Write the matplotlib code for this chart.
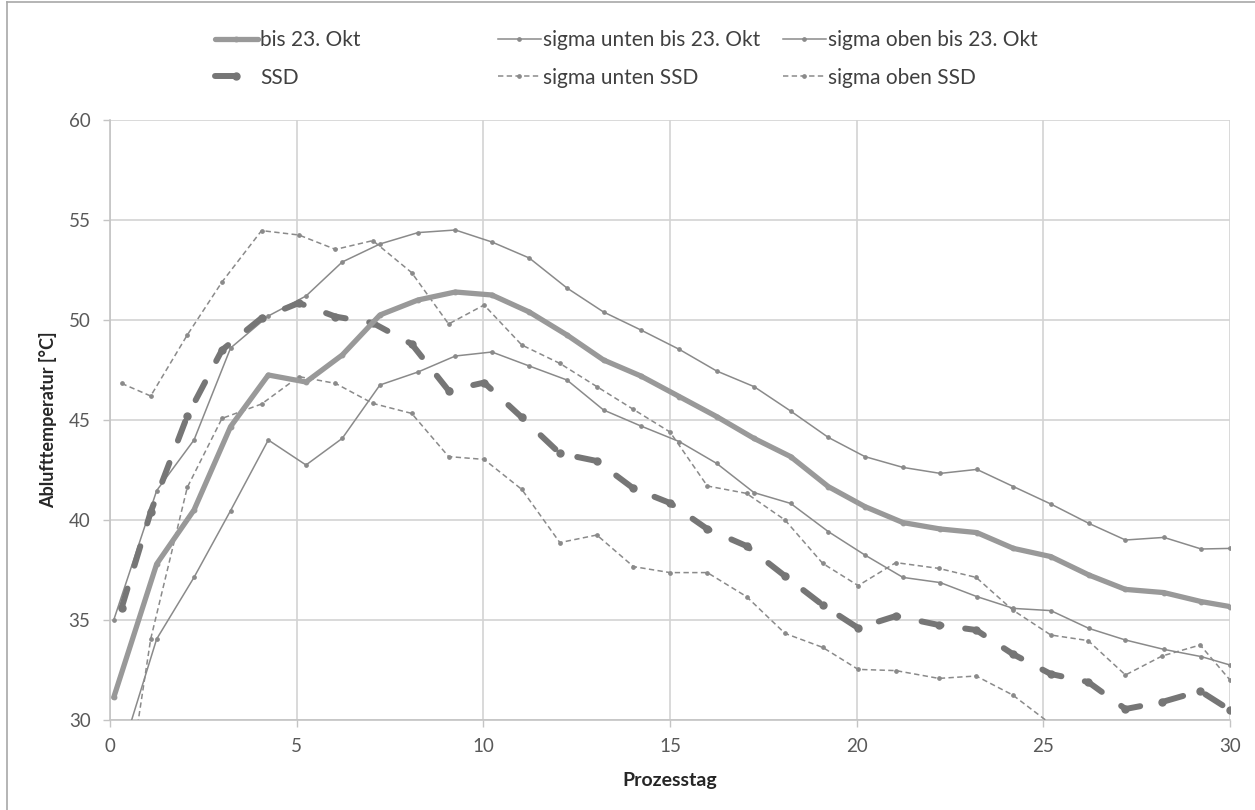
import numpy as np
import matplotlib.pyplot as plt
from matplotlib.lines import Line2D

plt.rcParams['font.family'] = ['Lato', 'DejaVu Sans']

# Process days (x) of the reference run up to 23 Oct and of the SSD run
days_okt = [0.10, 1.25, 2.25, 3.23, 4.24, 5.25, 6.22, 7.23, 8.25, 9.25,
            10.23, 11.23, 12.24, 13.22, 14.22, 15.25, 16.25, 17.25, 18.23, 19.24,
            20.22, 21.24, 22.24, 23.22, 24.20, 25.20, 26.22, 27.20, 28.23, 29.23, 30.00]
days_ssd = [0.31, 1.09, 2.07, 3.00, 4.06, 5.06, 6.04, 7.04, 8.08, 9.07,
            10.02, 11.03, 12.05, 13.04, 14.02, 15.00, 16.00, 17.05, 18.08, 19.09,
            20.04, 21.05, 22.20, 23.20, 24.18, 25.20, 26.20, 27.20, 28.18, 29.20, 30.00]

# Exhaust air temperature [°C]
bis_okt = [31.13, 37.8, 40.5, 44.67, 47.25, 46.9, 48.25, 50.25, 51.0, 51.4,
           51.25, 50.4, 49.25, 48.0, 47.2, 46.17, 45.17, 44.08, 43.17, 41.67,
           40.67, 39.87, 39.55, 39.37, 38.58, 38.17, 37.25, 36.53, 36.37, 35.92, 35.67]
sigma_unten_okt = [27.1, 34.05, 37.13, 40.47, 44.0, 42.75, 44.08, 46.75, 47.4, 48.2,
                   48.4, 47.7, 47.0, 45.5, 44.7, 43.92, 42.83, 41.37, 40.83, 39.42,
                   38.25, 37.13, 36.87, 36.17, 35.58, 35.47, 34.58, 34.0, 33.53, 33.17, 32.75]
sigma_oben_okt = [35.0, 41.47, 44.0, 48.6, 50.2, 51.2, 52.9, 53.8, 54.37, 54.5,
                  53.9, 53.1, 51.6, 50.4, 49.5, 48.53, 47.45, 46.67, 45.45, 44.13,
                  43.17, 42.63, 42.33, 42.53, 41.67, 40.8, 39.83, 39.0, 39.13, 38.55, 38.58]
ssd = [35.6, 40.4, 45.2, 48.5, 50.1, 50.85, 50.17, 49.85, 48.8, 46.47,
       46.87, 45.13, 43.33, 42.95, 41.58, 40.85, 39.55, 38.7, 37.2, 35.75,
       34.6, 35.2, 34.75, 34.5, 33.3, 32.3, 31.9, 30.55, 30.9, 31.45, 30.5]
sigma_unten_ssd = [24.5, 34.05, 41.63, 45.08, 45.8, 47.17, 46.83, 45.83, 45.33, 43.17,
                   43.03, 41.53, 38.87, 39.25, 37.67, 37.37, 37.37, 36.17, 34.33, 33.63,
                   32.53, 32.47, 32.08, 32.2, 31.25, 29.8, np.nan, np.nan, np.nan, np.nan, np.nan]
sigma_oben_ssd = [46.83, 46.2, 49.25, 51.9, 54.47, 54.25, 53.53, 53.97, 52.37, 49.8,
                  50.75, 48.75, 47.83, 46.67, 45.53, 44.4, 41.7, 41.33, 40.0, 37.83,
                  36.72, 37.87, 37.58, 37.13, 35.5, 34.25, 33.97, 32.25, 33.2, 33.75, 32.0]

x_ticks = [0, 5, 10, 15, 20, 25, 30]
y_ticks = [30, 35, 40, 45, 50, 55, 60]

W, H = 1255, 810
fig = plt.figure(figsize=(W / 100, H / 100), dpi=100)
ax = fig.add_axes([110 / W, 90 / H, 1120 / W, 600 / H])

c_okt = '#999999'
c_ssd = '#767676'
c_sig = '#8a8a8a'

l_su_okt, = ax.plot(days_okt, sigma_unten_okt, color=c_sig, lw=1.1,
                    marker='o', ms=2.4, zorder=3)
l_so_okt, = ax.plot(days_okt, sigma_oben_okt, color=c_sig, lw=1.1,
                    marker='o', ms=2.4, zorder=3)
l_su_ssd, = ax.plot(days_ssd, sigma_unten_ssd, color=c_sig, lw=1.1,
                    dashes=(3.5, 2.2), marker='o', ms=2.4, zorder=3)
l_so_ssd, = ax.plot(days_ssd, sigma_oben_ssd, color=c_sig, lw=1.1,
                    dashes=(3.5, 2.2), marker='o', ms=2.4, zorder=3)
l_ssd, = ax.plot(days_ssd, ssd, color=c_ssd, lw=4.3, dashes=(3.4, 4.0),
                 dash_capstyle='round', marker='o', ms=5.0, zorder=4)
l_okt, = ax.plot(days_okt, bis_okt, color=c_okt, lw=3.8,
                 solid_capstyle='round', solid_joinstyle='round',
                 marker='o', ms=3.2, zorder=5)

ax.set_xlim(0, 30)
ax.set_ylim(30, 60)
ax.set_xticks(x_ticks)
ax.set_yticks(y_ticks)
ax.grid(True, color='#d3d3d3', lw=1.2, zorder=0)
ax.set_axisbelow(True)
for side in ['top', 'right']:
    ax.spines[side].set_visible(False)
for side in ['left', 'bottom']:
    ax.spines[side].set_color('#c4c4c4')
    ax.spines[side].set_linewidth(1.2)
ax.tick_params(axis='both', labelsize=13.5, colors='#c4c4c4', labelcolor='#595959',
               length=5, width=1.0, direction='out')
ax.tick_params(axis='y', pad=9)
ax.tick_params(axis='x', pad=8)

ax.set_ylabel('Ablufttemperatur [°C]', fontsize=13, fontweight='bold',
              color='#262626', labelpad=8)
ax.set_xlabel('Prozesstag', fontsize=14, fontweight='bold',
              color='#262626', labelpad=12)

# Legend: three columns with two entries each
leg_kw = dict(loc='upper left', frameon=False, borderaxespad=0, borderpad=0,
              handlelength=2.05, handletextpad=0.1, labelspacing=0.85,
              fontsize=15, labelcolor='#404040', numpoints=1)
cols = [([l_okt, l_ssd], ['bis 23. Okt', 'SSD'], 215),
        ([l_su_okt, l_su_ssd], ['sigma unten bis 23. Okt', 'sigma unten SSD'], 498),
        ([l_so_okt, l_so_ssd], ['sigma oben bis 23. Okt', 'sigma oben SSD'], 783)]
for handles, labels, xpx in cols:
    fig.legend(handles, labels, bbox_to_anchor=(xpx / W, 1 - 30 / H), **leg_kw)

# Chart frame
fig.add_artist(Line2D([7 / W, 7 / W], [0, 1 - 2 / H], transform=fig.transFigure,
                      color='#a8a8a8', lw=1.2))
fig.add_artist(Line2D([7 / W, 1], [1 - 2 / H, 1 - 2 / H], transform=fig.transFigure,
                      color='#a8a8a8', lw=1.2))

fig.savefig('out.png', dpi=100)
